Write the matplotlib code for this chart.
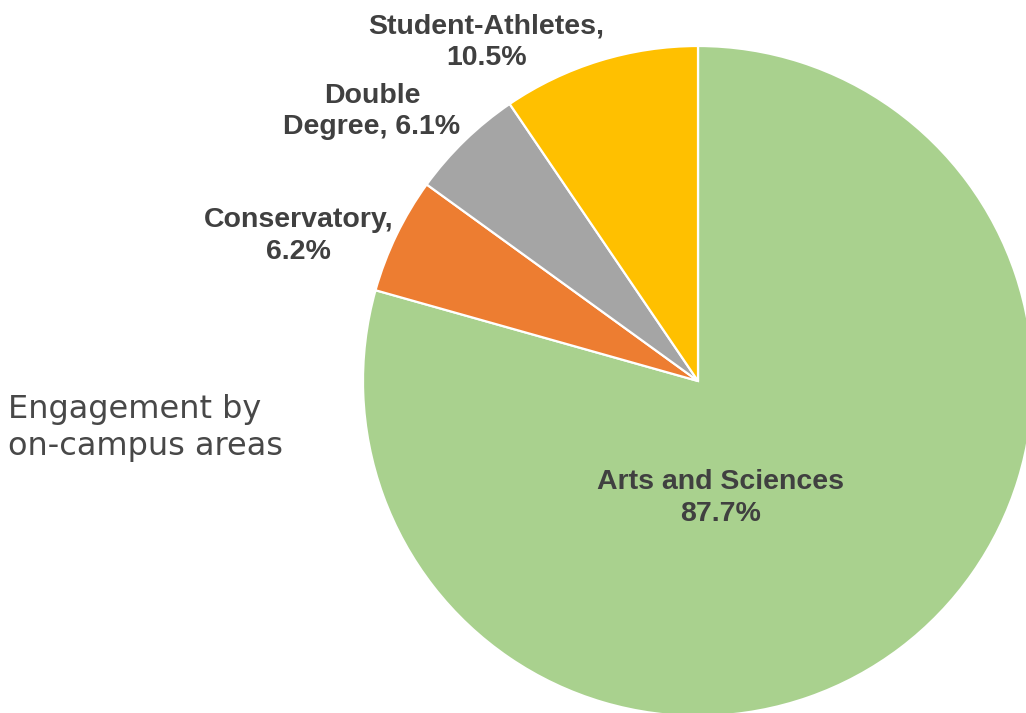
import matplotlib.pyplot as plt

# Share of engagement per on-campus area (percent)
areas = ['Arts and Sciences', 'Conservatory', 'Double Degree', 'Student-Athletes']
shares = [87.7, 6.2, 6.1, 10.5]
colors = ['#A9D18E', '#ED7D31', '#A5A5A5', '#FFC000']

label_texts = ['Arts and Sciences\n87.7%', 'Conservatory,\n6.2%',
               'Double\nDegree, 6.1%', 'Student-Athletes,\n10.5%']
# label anchor points in units of the pie radius
label_pos = [(0.068, -0.350), (-1.193, 0.433), (-0.973, 0.804), (-0.632, 1.012)]

W, H = 1026, 713
fig = plt.figure(figsize=(W / 100, H / 100), dpi=100)
fig.patch.set_facecolor('white')

# pie centre and radius in pixels
cx, cy, r = 698, 381, 335
ax = fig.add_axes([(cx - r) / W, (H - cy - r) / H, 2 * r / W, 2 * r / H])
ax.axis('off')

ax.pie(shares, colors=colors, startangle=90, counterclock=False, radius=1,
       wedgeprops=dict(edgecolor='white', linewidth=1.6), frame=False)
ax.set_xlim(-1, 1)
ax.set_ylim(-1, 1)
ax.set_aspect('auto')

for txt, (x, y) in zip(label_texts, label_pos):
    ax.text(x, y, txt, ha='center', va='center', fontsize=20.5,
            fontweight='bold', color='#404040', family='Liberation Sans',
            linespacing=1.28, clip_on=False)

fig.text(8 / W, 1 - 428 / H, 'Engagement by\non-campus areas', ha='left',
         va='center', fontsize=23, color='#484848', family='DejaVu Sans',
         linespacing=1.27)

fig.savefig('out.png', dpi=100)
